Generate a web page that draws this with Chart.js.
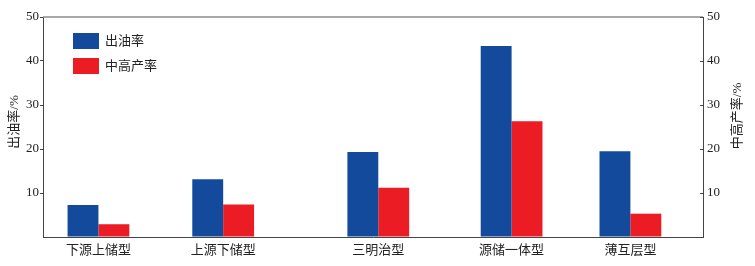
<!DOCTYPE html>
<html>
<head>
<meta charset="utf-8">
<script src="https://cdn.jsdelivr.net/npm/chart.js@4/dist/chart.umd.min.js"></script>
<style>
  html, body { margin: 0; padding: 0; background: #fff; }
  #wrap { width: 755px; height: 266px; }
</style>
</head>
<body>
<div id="wrap"><canvas id="chart" width="755" height="266"></canvas></div>
<script>
// 数据
const categories = ["下源上储型", "上源下储型", "三明治型", "源储一体型", "薄互层型"];
const oilRate = [7.3, 13.1, 19.3, 43.4, 19.5];      // 出油率
const highRate = [2.9, 7.4, 11.2, 26.3, 5.3];       // 中高产率
const yTicks = [10, 20, 30, 40, 50];

// 各类型在横轴上的位置（原图间距不均匀）
const xPos = [0.84, 2.73, 5.08, 7.1, 8.9];

const FONT = "'Liberation Serif', 'Noto Sans CJK SC', serif";
const AXIS = "#444";

const extras = {
  id: "extras",
  afterDraw(chart) {
    const ctx = chart.ctx;
    const a = chart.chartArea;
    const yR = chart.scales.yR;
    ctx.save();
    // 顶部边框
    ctx.strokeStyle = "#8c8c8c";
    ctx.lineWidth = 1.5;
    ctx.beginPath();
    ctx.moveTo(a.left, a.top);
    ctx.lineTo(a.right, a.top);
    ctx.stroke();
    // 右轴向内刻度
    ctx.strokeStyle = AXIS;
    ctx.lineWidth = 1;
    yTicks.forEach(v => {
      const y = Math.round(yR.getPixelForValue(v)) + 0.5;
      ctx.beginPath();
      ctx.moveTo(a.right - 3, y);
      ctx.lineTo(a.right, y);
      ctx.stroke();
    });
    // 图例
    const lx = a.left + 30, ly = a.top + 16;
    chart.data.datasets.forEach((ds, i) => {
      const y = ly + i * 25;
      ctx.fillStyle = ds.backgroundColor;
      ctx.fillRect(lx, y, 26, 16);
      ctx.fillStyle = "#222";
      ctx.font = "13px " + FONT;
      ctx.textBaseline = "middle";
      ctx.textAlign = "left";
      ctx.fillText(ds.label, lx + 32, y + 8.5);
    });
    // 坐标轴标题
    ctx.font = "13px " + FONT;
    ctx.textAlign = "center";
    ctx.textBaseline = "middle";
    ctx.fillStyle = "#222";
    ctx.translate(15, 122);
    ctx.rotate(-Math.PI / 2);
    ctx.fillText("出油率/%", 0, 0);
    ctx.setTransform(1, 0, 0, 1, 0, 0);
    ctx.translate(738, 116);
    ctx.rotate(-Math.PI / 2);
    ctx.fillText("中高产率/%", 0, 0);
    ctx.restore();
  }
};

const yCommon = {
  type: "linear",
  min: 0,
  max: 50,
  ticks: {
    stepSize: 10,
    color: "#222",
    font: { family: FONT, size: 13 },
    callback: v => (v === 0 ? "" : v)
  },
  border: { color: AXIS, width: 1 }
};

new Chart(document.getElementById("chart").getContext("2d"), {
  type: "bar",
  data: {
    datasets: [
      {
        label: "出油率",
        data: categories.map((c, i) => ({ x: xPos[i], y: oilRate[i] })),
        backgroundColor: "#134a9c",
        yAxisID: "y"
      },
      {
        label: "中高产率",
        data: categories.map((c, i) => ({ x: xPos[i], y: highRate[i] })),
        backgroundColor: "#ec1c24",
        yAxisID: "yR"
      }
    ]
  },
  options: {
    responsive: false,
    animation: false,
    layout: { padding: { top: 17, left: 0, right: 0, bottom: 0 } },
    datasets: { bar: { categoryPercentage: 0.52, barPercentage: 1.0 } },
    plugins: {
      legend: { display: false },
      tooltip: { enabled: false }
    },
    scales: {
      x: {
        type: "linear",
        min: 0,
        max: 10,
        offset: false,
        afterBuildTicks: s => { s.ticks = xPos.map(v => ({ value: v })); },
        afterFit: s => { s.height = 29; },
        ticks: {
          autoSkip: false,
          maxRotation: 0,
          padding: 6,
          color: "#222",
          font: { family: FONT, size: 13 },
          callback: (v, i) => categories[i]
        },
        grid: { display: false, drawTicks: false },
        border: { color: AXIS, width: 1 }
      },
      y: Object.assign({}, yCommon, {
        position: "left",
        afterFit: s => { s.width = 43; },
        ticks: Object.assign({}, yCommon.ticks, { padding: 1 }),
        grid: {
          drawOnChartArea: false,
          drawTicks: true,
          tickLength: 3,
          color: c => (c.tick && c.tick.value === 0 ? "rgba(0,0,0,0)" : AXIS)
        }
      }),
      yR: Object.assign({}, yCommon, {
        position: "right",
        afterFit: s => { s.width = 52; },
        ticks: Object.assign({}, yCommon.ticks, { padding: 4 }),
        grid: { drawOnChartArea: false, drawTicks: false }
      })
    }
  },
  plugins: [extras]
});
</script>
</body>
</html>
